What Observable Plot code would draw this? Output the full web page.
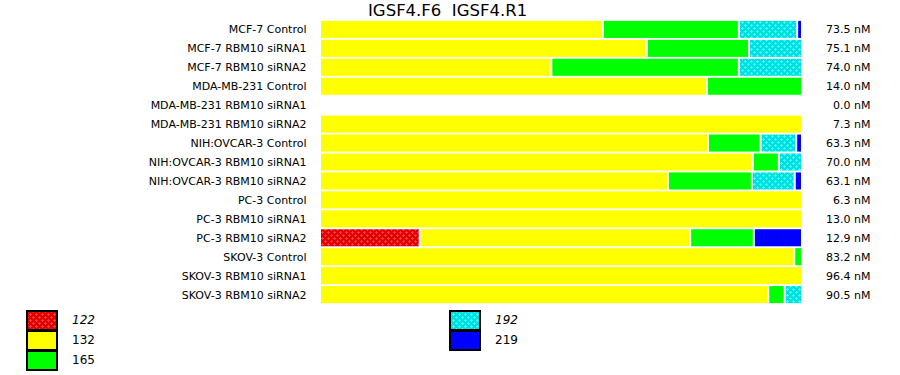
<!DOCTYPE html>
<html>
<head>
<meta charset="utf-8">
<script src="https://cdn.jsdelivr.net/npm/d3@7"></script>
<script src="https://cdn.jsdelivr.net/npm/@observablehq/plot@0.6"></script>
<style>
  body { margin: 0; background: #fff; font-family: "DejaVu Sans", Verdana, sans-serif; }
  #wrap { position: relative; width: 900px; height: 375px; overflow: hidden; }
  #title { position: absolute; left: 368px; top: 1px; font-size: 16.5px; color: #000; white-space: pre; line-height: 20px; }
  .leg { position: absolute; font-size: 12px; color: #000; }
</style>
</head>
<body>
<svg width="0" height="0" style="position:absolute">
  <defs>
    <pattern id="p122" width="6" height="6" patternUnits="userSpaceOnUse">
      <rect width="6" height="6" fill="#e00000"></rect>
      <path d="M1,0h1v1h1v1h-1v1h-1v-1h-1v-1h1z M4,3h1v1h1v1h-1v1h-1v-1h-1v-1h1z" fill="#ff3a3a"></path>
    </pattern>
    <pattern id="p192" width="6" height="6" patternUnits="userSpaceOnUse">
      <rect width="6" height="6" fill="#00dede"></rect>
      <path d="M1,0h1v1h1v1h-1v1h-1v-1h-1v-1h1z M4,3h1v1h1v1h-1v1h-1v-1h-1v-1h1z" fill="#3cffff"></path>
    </pattern>
  </defs>
</svg>
<div id="wrap">
  <div id="chart"></div>
  <div id="title">IGSF4.F6  IGSF4.R1</div>
  <div id="legend"></div>
</div>
<script>
const samples = ["MCF-7 Control","MCF-7 RBM10 siRNA1","MCF-7 RBM10 siRNA2","MDA-MB-231 Control","MDA-MB-231 RBM10 siRNA1","MDA-MB-231 RBM10 siRNA2","NIH:OVCAR-3 Control","NIH:OVCAR-3 RBM10 siRNA1","NIH:OVCAR-3 RBM10 siRNA2","PC-3 Control","PC-3 RBM10 siRNA1","PC-3 RBM10 siRNA2","SKOV-3 Control","SKOV-3 RBM10 siRNA1","SKOV-3 RBM10 siRNA2"];
const totals = [73.5, 75.1, 74.0, 14.0, 0.0, 7.3, 63.3, 70.0, 63.1, 6.3, 13.0, 12.9, 83.2, 96.4, 90.5];
const categories = ["122", "132", "165", "192", "219"];
const pct122 = [0, 0, 0, 0, 0, 0, 0, 0, 0, 0, 0, 20.7, 0, 0, 0];
const pct132 = [58.7, 67.8, 48.0, 80.3, 0, 100, 80.5, 89.8, 72.2, 100, 100, 56.1, 98.4, 100, 93.0];
const pct165 = [28.2, 21.2, 38.9, 19.7, 0, 0, 10.9, 5.4, 17.4, 0, 0, 13.2, 1.6, 0, 3.4];
const pct192 = [12.1, 11.0, 13.1, 0, 0, 0, 7.4, 4.8, 8.9, 0, 0, 0, 0, 0, 3.6];
const pct219 = [1.0, 0, 0, 0, 0, 0, 1.2, 0, 1.5, 0, 0, 10.0, 0, 0, 0];
const fills = ["url(#p122)", "#ffff00", "#00ff00", "url(#p192)", "#0000ff"];

const series = [pct122, pct132, pct165, pct192, pct219];
const rows = [];
samples.forEach((s, i) => {
  categories.forEach((c, j) => {
    if (series[j][i] > 0) rows.push({sample: s, cat: c, value: series[j][i]});
  });
});
const labels = samples.map((s, i) => ({sample: s, text: totals[i].toFixed(1) + " nM"}));

const chart = Plot.plot({
  width: 900,
  height: 375,
  marginLeft: 321,
  marginRight: 97,
  marginTop: 19,
  marginBottom: 70,
  style: {fontFamily: "DejaVu Sans, Verdana, sans-serif", fontSize: "11px", background: "transparent"},
  x: {domain: [0, 100], axis: null},
  y: {domain: samples, padding: 0.1, round: false, label: null, tickSize: 0, tickPadding: 15},
  color: {type: "ordinal", domain: categories, range: fills},
  marks: [
    Plot.barX(rows, Plot.stackX({y: "sample", x: "value", fill: "cat", insetRight: 2})),
    Plot.text(labels, {y: "sample", text: "text", frameAnchor: "right", textAnchor: "end", dx: 67, fill: "#000"})
  ]
});
document.getElementById("chart").appendChild(chart);

// legend
const legendItems = [
  {cat: "122", x: 27, y: 311, italic: true},
  {cat: "132", x: 27, y: 331, italic: false},
  {cat: "165", x: 27, y: 351, italic: false},
  {cat: "192", x: 450, y: 311, italic: true},
  {cat: "219", x: 450, y: 331, italic: false}
];
const leg = document.getElementById("legend");
legendItems.forEach(it => {
  const f = fills[categories.indexOf(it.cat)];
  const ns = "http://www.w3.org/2000/svg";
  const svg = document.createElementNS(ns, "svg");
  svg.setAttribute("width", 32); svg.setAttribute("height", 21);
  svg.style.position = "absolute"; svg.style.left = (it.x - 1) + "px"; svg.style.top = (it.y - 1) + "px";
  const r = document.createElementNS(ns, "rect");
  r.setAttribute("x", 1); r.setAttribute("y", 1); r.setAttribute("width", 30); r.setAttribute("height", 19);
  r.setAttribute("fill", f); r.setAttribute("stroke", "#000"); r.setAttribute("stroke-width", 2);
  svg.appendChild(r);
  leg.appendChild(svg);
  const t = document.createElement("div");
  t.className = "leg";
  t.textContent = it.cat;
  t.style.left = (it.x + 45) + "px";
  t.style.top = (it.y + 2) + "px";
  if (it.italic) t.style.fontStyle = "italic";
  leg.appendChild(t);
});
</script>
</body>
</html>
